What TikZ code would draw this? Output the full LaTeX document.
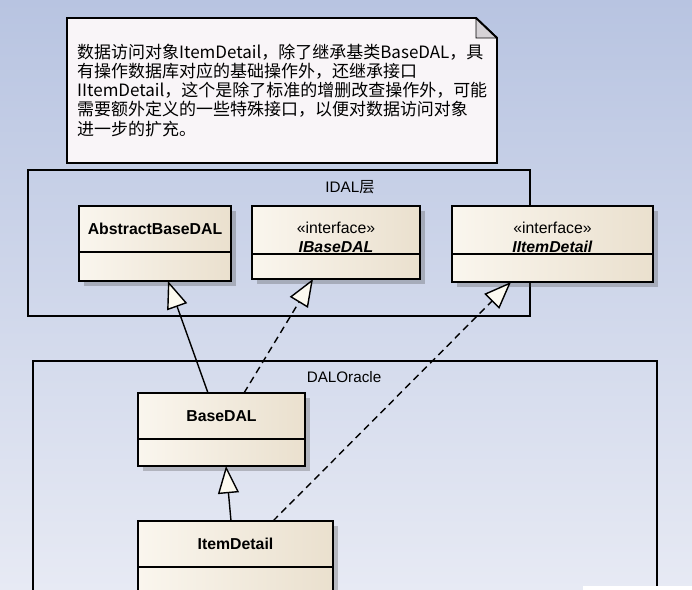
\documentclass[tikz,border=0pt]{standalone}
\usepackage{fontspec}
\setmainfont{Liberation Sans}
\newfontfamily\cjkfont{Noto Sans CJK SC}
\usetikzlibrary{arrows.meta}
\usetikzlibrary{positioning}
\usetikzlibrary{shadows}

\definecolor{bgtop}{RGB}{184,196,225}
\definecolor{bgbottom}{RGB}{231,234,244}
\definecolor{notefill}{RGB}{249,245,248}
\definecolor{foldgray}{RGB}{214,210,214}
\definecolor{creamleft}{RGB}{250,246,238}
\definecolor{creamright}{RGB}{234,224,206}
\definecolor{tipfill}{RGB}{252,250,240}

\tikzset{
  classhead/.style={draw, line width=1.6pt, inner sep=0pt, outer sep=0pt, anchor=north west,
    left color=creamleft, right color=creamright, align=center,
    font=\fontsize{13.5}{16}\selectfont,
    drop shadow={shadow xshift=0.14cm, shadow yshift=-0.14cm, opacity=0.3, fill=black!70}},
  classbody/.style={classhead, anchor=north},
  pkgbox/.style={draw, line width=1.6pt, inner sep=0pt, outer sep=0pt, anchor=north west},
  pkglabel/.style={font=\fontsize{13}{15}\selectfont},
  notetext/.style={anchor=north west, inner sep=0pt, align=left,
    font=\cjkfont\fontsize{14.5}{16.3}\selectfont},
  inherit/.style={line width=1.2pt, -{Triangle[length=0.82cm, width=0.63cm, fill=tipfill]}},
  realize/.style={inherit, dash pattern=on 6pt off 4pt}
}

\begin{document}
\begin{tikzpicture}[x=0.03cm, y=-0.03cm]
\useasboundingbox (0,0) rectangle (692,590);
\shade[top color=bgtop, bottom color=bgbottom] (0,0) rectangle (692,590);

\draw[line width=1.6pt, fill=notefill] (67,18) -- (476,18) -- (497,38) -- (497,163) -- (67,163) -- cycle;
\filldraw[line width=0.6pt, fill=foldgray] (476,18) -- (497,38) -- (476,38) -- cycle;
\draw[line width=1.6pt] (476,18) -- (497,38);
\node[notetext] (note) at (77,44) {数据访问对象ItemDetail，除了继承基类BaseDAL，具\\
有操作数据库对应的基础操作外，还继承接口\\
IItemDetail，这个是除了标准的增删改查操作外，可能\\
需要额外定义的一些特殊接口，以便对数据访问对象\\
进一步的扩充。};

\node[pkgbox, minimum width=15.06cm, minimum height=4.38cm] (idal) at (28,170) {};
\node[pkglabel] (idallabel) at (350,187) {IDAL{\cjkfont 层}};
\node[pkgbox, minimum width=18.72cm, minimum height=7.5cm] (oracle) at (33,361) {};
\node[pkglabel] (oraclelabel) at (344,377) {DALOracle};

\node[classhead, minimum width=4.56cm, minimum height=1.38cm] (abshead) at (79,206) {\textbf{AbstractBaseDAL}};
\node[classbody, minimum width=4.56cm, minimum height=0.87cm, below=0pt of abshead] (absbody) {};
\node[classhead, minimum width=5.04cm, minimum height=1.44cm] (ibasehead) at (252,206) {\rule{0pt}{22pt}«interface»\\\textbf{\itshape IBaseDAL}};
\node[classbody, minimum width=5.04cm, minimum height=0.75cm, below=0pt of ibasehead] (ibasebody) {};
\node[classhead, minimum width=6.03cm, minimum height=1.44cm] (iitemhead) at (452,206) {\rule{0pt}{22pt}«interface»\\\textbf{\itshape IItemDetail}};
\node[classbody, minimum width=6.03cm, minimum height=0.84cm, below=0pt of iitemhead] (iitembody) {};

\node[classhead, minimum width=5.01cm, minimum height=1.38cm] (basehead) at (138,393) {\textbf{BaseDAL}};
\node[classbody, minimum width=5.01cm, minimum height=0.81cm, below=0pt of basehead] (basebody) {};
\node[classhead, minimum width=5.85cm, minimum height=1.38cm] (itemhead) at (138,521) {\textbf{ItemDetail}};
\node[classbody, minimum width=5.85cm, minimum height=1.29cm, below=0pt of itemhead] (itembody) {};

\draw[inherit] ([shift={(-13.5,0)}]basehead.north) -- ([shift={(13,0)}]absbody.south);
\draw[realize] ([shift={(22.5,0)}]basehead.north) -- ([shift={(-23,0)}]ibasebody.south);
\draw[realize] ([shift={(37.5,0)}]itemhead.north) -- ([shift={(-41.5,0)}]iitembody.south);
\draw[inherit] ([shift={(-4.5,0)}]itemhead.north) -- ([shift={(4.5,0)}]basebody.south);

\fill[white] (583,586) rectangle (692,592);
\end{tikzpicture}
\end{document}
